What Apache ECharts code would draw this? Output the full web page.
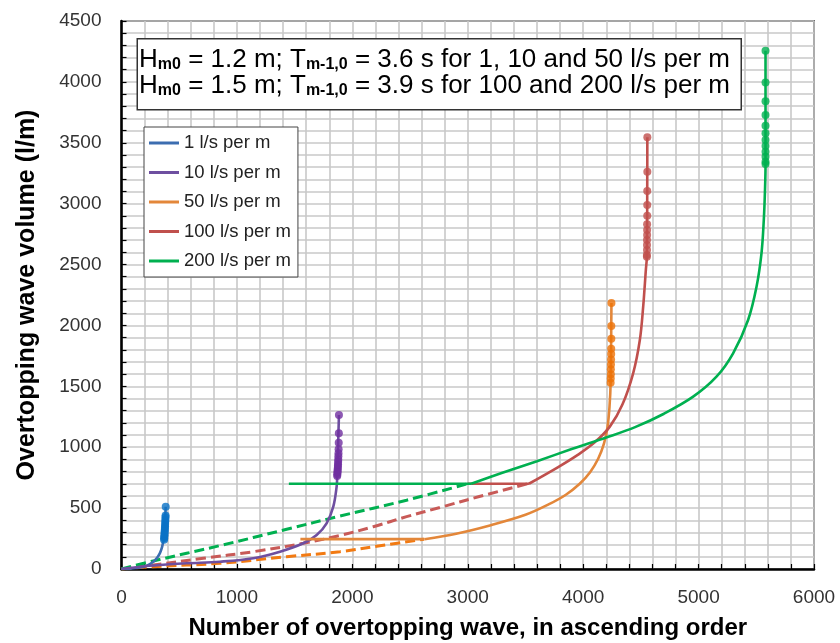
<!DOCTYPE html>
<html>
<head>
<meta charset="utf-8">
<script src="https://cdn.jsdelivr.net/npm/echarts@6/dist/echarts.min.js"></script>
<style>
  html, body { margin: 0; padding: 0; background: #fff; }
  #chart { width: 840px; height: 643px; }
</style>
</head>
<body>
<div id="chart"></div>
<script>
// ---- Data ----
const seriesNames = ['1 l/s per m', '10 l/s per m', '50 l/s per m', '100 l/s per m', '200 l/s per m'];
const xTickLabels = [0, 1000, 2000, 3000, 4000, 5000, 6000];
const yTickLabels = [0, 500, 1000, 1500, 2000, 2500, 3000, 3500, 4000, 4500];

// 1 l/s per m
const blueLine = [[0,0],[74,3],[160,12],[220,28],[276,60],[310,95],[333,130],[350,175],[362,225],[369,240],[383,511]];
const blueDots = [[369,240],[370,252],[371,265],[372,278],[373,292],[374,305],[375,320],[376,336],[377,352],[378,370],[379,388],[380,405],[381,425],[382,440],[383,511]];

// 10 l/s per m
const purpleLine = [[0,0],[160,19],[333,33],[565,47],[853,60],[1142,88],[1373,142],[1575,211],[1691,279],[1777,375],[1835,512],[1864,676],[1869,764],[1884,1265]];
const purpleDots = [[1869,764],[1870,775],[1871,790],[1872,800],[1873,815],[1874,830],[1875,845],[1876,860],[1877,880],[1878,900],[1879,925],[1880,950],[1881,983],[1882,1037],[1883,1114],[1884,1265]];

// 50 l/s per m
const orangeDash = [[0,0],[274,19],[853,47],[1431,101],[1893,142],[2239,191],[2620,245]];
const orangeFlat = [[1550,245],[2625,245]];
const orangeLine = [[2625,245],[2900,290],[3200,360],[3500,445],[3700,530],[3850,610],[3970,700],[4060,795],[4130,905],[4180,1030],[4210,1160],[4228,1330],[4238,1530],[4245,2184]];
const orangeDots = [[4238,1530],[4239,1565],[4240,1600],[4240,1640],[4241,1680],[4242,1720],[4243,1765],[4243,1809],[4244,1891],[4244,1995],[4245,2184]];

// 100 l/s per m
const redDash = [[0,0],[276,33],[709,88],[1142,142],[1575,211],[1893,275],[2181,347],[2470,430],[2759,505],[3100,595],[3520,700]];
const redFlat = [[3000,700],[3530,700]];
const redLine = [[3530,700],[3780,835],[3950,935],[4100,1040],[4231,1169],[4340,1350],[4433,1607],[4491,1880],[4520,2154],[4543,2455],[4552,2565],[4556,3545]];
const redDots = [[4552,2565],[4552,2578],[4553,2619],[4553,2660],[4553,2702],[4554,2743],[4554,2784],[4554,2830],[4555,2901],[4555,2989],[4555,3104],[4556,3263],[4556,3545]];

// 200 l/s per m
const greenDash = [[0,0],[276,66],[853,192],[1431,326],[1893,435],[2470,565],[3000,700]];
const greenFlat = [[1450,700],[3030,700]];
const greenLine = [[3030,700],[3300,790],[3600,885],[3900,985],[4200,1080],[4450,1165],[4700,1275],[4953,1415],[5155,1579],[5299,1771],[5429,2045],[5502,2318],[5545,2592],[5565,2866],[5575,3100],[5580,3317],[5580,4256]];
const greenDots = [[5580,3326],[5580,3345],[5580,3386],[5580,3427],[5580,3473],[5580,3523],[5580,3578],[5580,3640],[5580,3728],[5580,3840],[5580,3996],[5580,4256]];

// ---- Styles ----
const FONT = 'Liberation Sans, Arial, sans-serif';
const lineColors = ['#3C6DB0', '#6E4FA0', '#E3873A', '#C0504D', '#00B050'];
const dotColors  = ['#0A72C6', '#7030A0', '#EE7206', '#C0504D', '#00B050'];
const dashColors = ['#3C6DB0', '#6E4FA0', '#F27A12', '#C85A57', '#00B050'];

function solid(i, data, name) {
  return {
    name: name || seriesNames[i], type: 'line', data: data, showSymbol: false, symbol: 'none',
    smooth: name ? false : 0.35,
    lineStyle: { color: lineColors[i], width: 2.6 },
    itemStyle: { color: lineColors[i] }, z: 3 + i, silent: true, animation: false
  };
}
function dashed(i, data) {
  return {
    name: seriesNames[i] + ' (dashed)', type: 'line', data: data, showSymbol: false, symbol: 'none',
    smooth: 0.35,
    lineStyle: { color: dashColors[i], width: 3, type: [10, 5] },
    itemStyle: { color: dashColors[i] }, z: 2, silent: true, animation: false
  };
}
function dots(i, data) {
  return {
    name: seriesNames[i] + ' (dots)', type: 'scatter', data: data, symbol: 'circle', symbolSize: 8,
    itemStyle: { color: dotColors[i] }, z: 10 + i, silent: true, animation: false
  };
}

const chart = echarts.init(document.getElementById('chart'), null, { renderer: 'canvas' });
chart.setOption({
  animation: false,
  backgroundColor: '#ffffff',
  grid: { left: 121.5, right: 26, top: 21, bottom: 74, outerBoundsMode: 'none', containLabel: false,
          show: true, borderColor: '#000', borderWidth: 1.5, backgroundColor: 'transparent' },
  legend: {
    data: seriesNames, orient: 'vertical', left: 144, top: 127,
    icon: 'rect', itemWidth: 30, itemHeight: 3, itemGap: 9.5,
    backgroundColor: '#fff', borderColor: '#444', borderWidth: 1, padding: [6, 7, 6, 5],
    selectedMode: false,
    textStyle: { fontFamily: FONT, fontSize: 18.5, color: '#222', lineHeight: 20 }
  },
  xAxis: {
    type: 'value', min: 0, max: 6000, interval: 200,
    name: 'Number of overtopping wave, in ascending order',
    nameLocation: 'middle', nameGap: 47,
    nameTextStyle: { fontFamily: FONT, fontSize: 24, fontWeight: 'bold', color: '#000' },
    axisLine: { show: true, lineStyle: { color: '#000', width: 2.5 } },
    axisTick: { show: true, inside: true, length: 5, lineStyle: { color: '#000', width: 1.2 } },
    axisLabel: {
      fontFamily: FONT, fontSize: 19, color: '#333', margin: 19,
      formatter: v => (xTickLabels.indexOf(v) >= 0 ? String(v) : '')
    },
    splitLine: { show: true, lineStyle: { color: '#C8C8C8', width: 1.6 } }
  },
  yAxis: {
    type: 'value', min: 0, max: 4500, interval: 100,
    name: 'Overtopping wave volume (l/m)',
    nameLocation: 'middle', nameGap: 82, nameRotate: 90,
    nameTextStyle: { fontFamily: FONT, fontSize: 25, fontWeight: 'bold', color: '#000' },
    axisLine: { show: true, lineStyle: { color: '#000', width: 2.5 } },
    axisTick: { show: true, inside: true, length: 5, lineStyle: { color: '#000', width: 1.2 } },
    axisLabel: {
      fontFamily: FONT, fontSize: 19, color: '#333', margin: 20,
      formatter: v => (yTickLabels.indexOf(v) >= 0 ? String(v) : '')
    },
    splitLine: { show: true, lineStyle: { color: '#C8C8C8', width: 1.6 } }
  },
  graphic: [
    { type: 'rect', left: 136.5, top: 38, z: 100,
      shape: { width: 604, height: 71 },
      style: { fill: '#fff', stroke: '#333', lineWidth: 1.5 } },
    { type: 'text', left: 139, top: 47, z: 101,
      style: {
        text: '{n|H}{s|m0}{n| = 1.2 m; T}{s|m-1,0}{n| = 3.6 s for 1, 10 and 50 l/s per m}\n' +
              '{n|H}{s|m0}{n| = 1.5 m; T}{s|m-1,0}{n| = 3.9 s for 100 and 200 l/s per m}',
        rich: {
          n: { fontFamily: FONT, fontSize: 26, lineHeight: 26, fill: '#000', verticalAlign: 'middle' },
          s: { fontFamily: FONT, fontSize: 16, fontWeight: 'bold', lineHeight: 8, fill: '#000', verticalAlign: 'bottom' }
        }
      } }
  ],
  series: [
    dashed(2, orangeDash), dashed(3, redDash), dashed(4, greenDash),
    solid(0, blueLine), solid(1, purpleLine),
    solid(2, orangeFlat, 'flat50'), solid(2, orangeLine),
    solid(3, redFlat, 'flat100'), solid(3, redLine),
    solid(4, greenFlat, 'flat200'), solid(4, greenLine),
    dots(0, blueDots), dots(1, purpleDots), dots(2, orangeDots), dots(3, redDots), dots(4, greenDots)
  ]
});
</script>
</body>
</html>
